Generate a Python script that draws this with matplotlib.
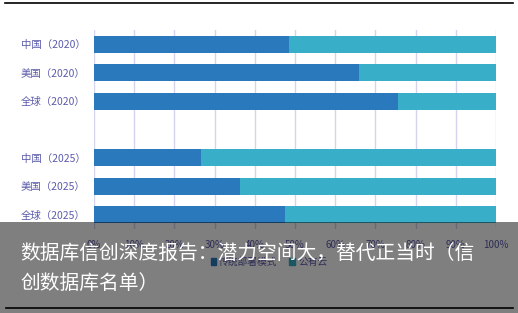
import matplotlib.pyplot as plt
from matplotlib.patches import Rectangle
from matplotlib.lines import Line2D

plt.rcParams['font.family'] = ['Noto Sans CJK SC', 'DejaVu Sans']

categories = ["中国（2020）", "美国（2020）", "全球（2020）", "",
              "中国（2025）", "美国（2025）", "全球（2025）"]
traditional = [48.5, 66, 75.5, None, 26.5, 36.3, 47.5]
public_cloud = [51.5, 34, 24.5, None, 73.5, 63.7, 52.5]
series_names = ["传统部署模式", "公有云"]
title = "数据库信创深度报告：潜力空间大，替代正当时（信\n创数据库名单）"

W, H = 518, 313
fig = plt.figure(figsize=(W / 100, H / 100), dpi=100)

# plot area in pixels: x 94..496, y 30..229
ax = fig.add_axes([94 / W, 1 - 229 / H, 402 / W, 199 / H])

c1, c2 = "#2a79bd", "#38aec8"
label_color = "#5b5bab"

ys = list(range(len(categories)))
for y, a, b in zip(ys, traditional, public_cloud):
    if a is None:
        continue
    ax.barh(y, a, height=0.6, color=c1, zorder=3)
    ax.barh(y, b, left=a, height=0.6, color=c2, zorder=3)

ax.set_xlim(0, 100)
ax.set_ylim(len(categories) - 0.5, -0.5)
ax.set_yticks(ys)
ax.set_yticklabels(categories, color=label_color, fontsize=7.5, fontweight="medium")
ax.set_xticks(range(0, 101, 10))
ax.set_xticklabels([f"{v}%" for v in range(0, 101, 10)], color=label_color, fontsize=7)
ax.tick_params(axis="y", length=0, pad=6)
ax.tick_params(axis="x", length=0, pad=8)
ax.grid(axis="x", color="#d4d4ec", linewidth=1, zorder=0)
for s in ax.spines.values():
    s.set_visible(False)

handles = [Rectangle((0, 0), 1, 1, color=c1), Rectangle((0, 0), 1, 1, color=c2)]
fig.legend(handles, series_names, loc="center", bbox_to_anchor=(269 / W, 1 - 262 / H),
           ncol=2, frameon=False, fontsize=7, handlelength=0.6, handleheight=0.6,
           handletextpad=0.3, columnspacing=1.2, labelcolor=label_color)

# dark caption band
fig.patches.append(Rectangle((0, 0), 1, 1 - 222 / H, transform=fig.transFigure,
                             facecolor="black", alpha=0.5, zorder=10))
fig.text(20 / W, 1 - 243 / H, title, color="white", fontsize=14.2, va="top",
         ha="left", linespacing=1.58, zorder=11)

fig.lines.append(Line2D([5 / W, 513 / W], [1 - 2.5 / H] * 2, transform=fig.transFigure,
                        color="black", linewidth=1.2))
fig.lines.append(Line2D([6 / W, 513 / W], [1 - 308 / H] * 2, transform=fig.transFigure,
                        color="black", linewidth=1.2, zorder=12))

fig.savefig("out.png", dpi=100)
